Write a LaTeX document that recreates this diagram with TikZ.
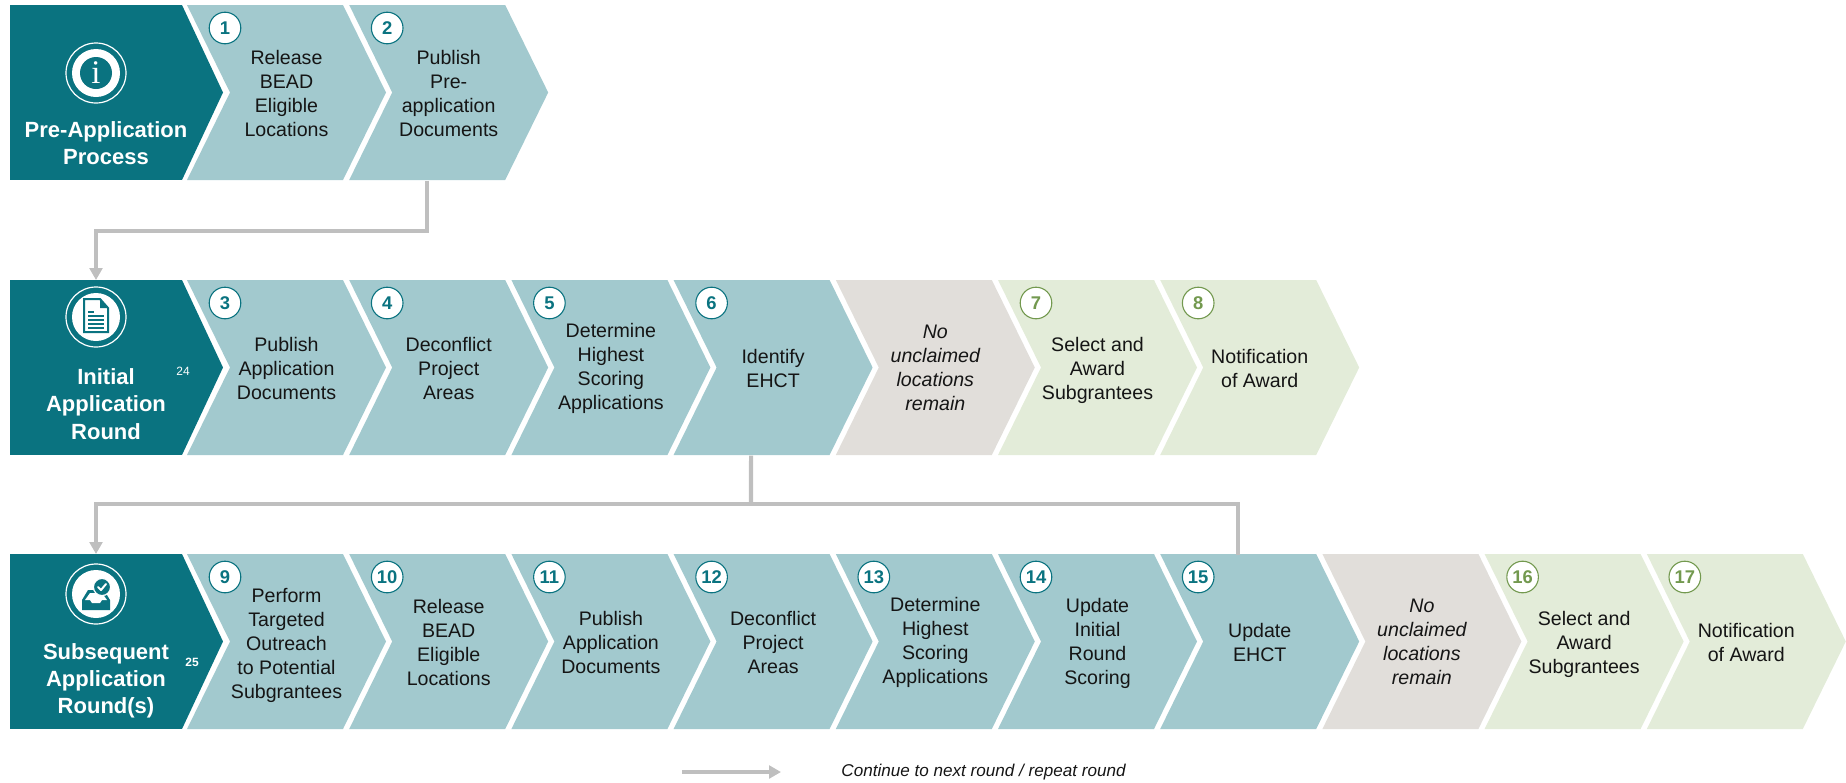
\documentclass[tikz,border=0pt]{standalone}
\usepackage{fontspec}
\setmainfont{Liberation Sans}
\newfontfamily\iconfont{Liberation Serif}
\usetikzlibrary{arrows.meta,shapes.geometric}
\definecolor{tealdark}{HTML}{0A7380}
\definecolor{teallight}{HTML}{A2C9CE}
\definecolor{greylight}{HTML}{E1DEDA}
\definecolor{greenlight}{HTML}{E3ECD9}
\definecolor{greendark}{HTML}{73994F}
\definecolor{linkgrey}{HTML}{BFBFBF}
\definecolor{inkblack}{HTML}{151515}
\tikzset{
	steptext/.style={inner sep=0pt, outer sep=0pt, minimum width=99.5pt, minimum height=87.5pt, align=center, text=inkblack, font=\fontsize{9.8}{12}\selectfont},
	stepnum/.style={circle, fill=white, line width=.55pt, inner sep=0pt, minimum size=15.8pt, font=\fontsize{9.2}{10}\selectfont\bfseries},
	numteal/.style={stepnum, draw=tealdark, text=tealdark},
	numgreen/.style={stepnum, draw=greendark, text=greendark},
	headbox/.style={fill=tealdark, inner sep=0pt, outer sep=0pt, minimum width=86pt, minimum height=87.5pt},
	headtext/.style={align=center, text=white, inner sep=0pt, font=\fontsize{11}{13.6}\selectfont\bfseries},
	noteref/.style={text=white, inner sep=0pt, font=\fontsize{6}{7}\selectfont},
	iconring/.style={circle, draw=white, line width=.6pt, inner sep=0pt, minimum size=30pt},
	icondisk/.style={circle, fill=white, inner sep=0pt, minimum size=24pt},
	link/.style={draw=linkgrey, line width=2.1pt, -{Triangle[width=6.4pt,length=6pt]}},
	linkplain/.style={draw=linkgrey, line width=2.1pt}
}
\newcommand{\chevshape}[3]{\fill[#3] (187+162.2*#1,#2) -- ++(156,0) -- ++(43,87.5) -- ++(-43,87.5) -- ++(-156,0) -- ++(43,-87.5) -- cycle;}
\newcommand{\tealstep}[5][0]{\chevshape{#3}{#4}{teallight}
	\node[numteal] (b#2) at (225+162.2*#3,#4+23) {#2};
	\node[steptext] (s#2) at (286.5+162.2*#3,#4+88+#1) {#5};}
\newcommand{\greenstep}[5][0]{\chevshape{#3}{#4}{greenlight}
	\node[numgreen] (b#2) at (225+162.2*#3,#4+23) {#2};
	\node[steptext] (s#2) at (286.5+162.2*#3,#4+88+#1) {#5};}
\begin{document}
\begin{tikzpicture}[x=.5pt, y=-.5pt, line cap=butt, line join=miter]
	\useasboundingbox (0,0) rectangle (1846,782);
	\foreach \n/\y in {1/5, 2/280, 3/554} {
		\node[headbox] (h\n) at (96,\y+87.5) {};
		\fill[tealdark] (h\n.north east) -- (223,\y+87.5) -- (h\n.south east) -- cycle;
	}
	\tealstep{1}{0}{5}{Release\\BEAD\\Eligible\\Locations}
	\tealstep{2}{1}{5}{Publish\\Pre-\\application\\Documents}
	\tealstep{3}{0}{280}{Publish\\Application\\Documents}
	\tealstep{4}{1}{280}{Deconflict\\Project\\Areas}
	\tealstep{5}{2}{280}{Determine\\Highest\\Scoring\\Applications}
	\tealstep{6}{3}{280}{Identify\\EHCT}
	\greenstep[2]{7}{5}{280}{Select and\\Award\\Subgrantees}
	\greenstep{8}{6}{280}{Notification\\of Award}
	\tealstep[3]{9}{0}{554}{Perform\\Targeted\\Outreach\\to Potential\\Subgrantees}
	\tealstep{10}{1}{554}{Release\\BEAD\\Eligible\\Locations}
	\tealstep{11}{2}{554}{Publish\\Application\\Documents}
	\tealstep{12}{3}{554}{Deconflict\\Project\\Areas}
	\tealstep{13}{4}{554}{Determine\\Highest\\Scoring\\Applications}
	\tealstep[1.5]{14}{5}{554}{Update\\Initial\\Round\\Scoring}
	\tealstep{15}{6}{554}{Update\\EHCT}
	\greenstep[2]{16}{8}{554}{Select and\\Award\\Subgrantees}
	\greenstep{17}{9}{554}{Notification\\of Award}
	\foreach \n/\k/\y in {a/4/280, b/7/554} {
		\chevshape{\k}{\y}{greylight}
		\node[steptext, font=\fontsize{9.8}{12}\selectfont\itshape] (none\n) at (286.5+162.2*\k,\y+87.5) {No\\unclaimed\\locations\\remain};
	}
	\node[headtext] (t1) at (106,143) {Pre-Application\\Process};
	\node[headtext] (t2) at (106,404) {Initial\\Application\\Round};
	\node[headtext] (t3) at (106,681) {Subsequent\\Application\\Round(s)};
	\node[noteref] (r24) at (183,371) {24};
	\node[noteref, font=\fontsize{6}{7}\selectfont\bfseries] (r25) at (192,662) {25};
	\foreach \n/\y in {1/73, 2/317, 3/594} {
		\node[iconring] (ic\n) at (96,\y) {};
		\node[icondisk] (id\n) at (96,\y) {};
	}
	\node[circle, fill=tealdark, text=white, inner sep=0pt, minimum size=16pt, font=\iconfont\fontsize{16.5}{17}\selectfont] (infoi) at (id1) {i};
	\draw[tealdark, line width=1pt, fill=white] (84,299) -- (100,299) -- (108,308) -- (108,332) -- (84,332) -- cycle;
	\fill[tealdark] (100,299) -- (100,308) -- (108,308) -- cycle;
	\foreach \yy in {316,320,324,328} {
		\draw[tealdark, line width=.9pt] (88,\yy) -- (104,\yy);
	}
	\draw[tealdark, line width=.9pt] (88,312) -- (94,312);
	\fill[tealdark] (82,610) -- (82,600) -- (88,590) -- (104,590) -- (110,600) -- (110,610) -- cycle;
	\fill[white] (85,600) -- (90,593) -- (102,593) -- (107,600) -- (102,600) -- (100,603) -- (92,603) -- (90,600) -- cycle;
	\node[circle, fill=tealdark, draw=white, line width=.6pt, inner sep=0pt, minimum size=8.6pt] (chk) at (102,587) {};
	\draw[white, line width=1pt, line cap=round, line join=round] (98,587) -- (101,590) -- (106,584);
	\coordinate (ja) at (96,231);
	\coordinate (jb) at (751,504);
	\coordinate (jc) at (96,504);
	\coordinate (la) at (682,772);
	\coordinate (lb) at (781,772);
	\draw[link] ([xshift=-10.85pt]s2.south) |- (ja) -- (h2.north);
	\draw[linkplain] ([xshift=-11pt]s6.south) -- (jb);
	\draw[link] ([xshift=-10.85pt]s15.north) |- (jc) -- (h3.north);
	\draw[link] (la) -- (lb);
	\node[inner sep=0pt, anchor=west, text=inkblack, font=\fontsize{8.55}{10}\selectfont\itshape] (legend) at (841,772) {Continue to next round / repeat round};
\end{tikzpicture}
\end{document}
